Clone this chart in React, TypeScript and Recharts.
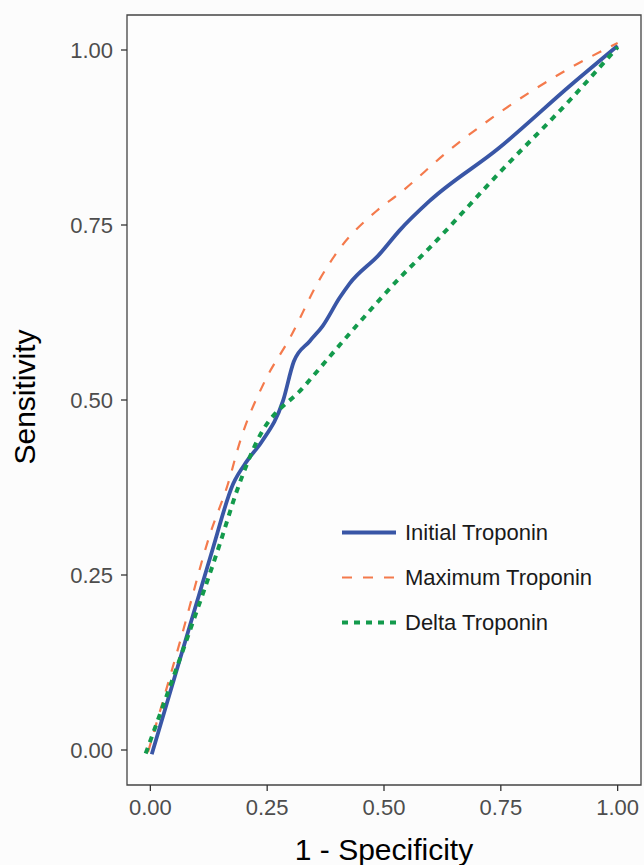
import React from 'react';
import { LineChart, Line, XAxis, YAxis, ReferenceArea, Label } from 'recharts';

const INITIAL_FPR = [0.003, 0.075, 0.132, 0.177, 0.207, 0.239, 0.284, 0.307, 0.341, 0.369, 0.405, 0.426, 0.49, 0.533, 0.597, 0.746, 0.9, 1.0];
const INITIAL_TPR = [-0.006, 0.156, 0.284, 0.38, 0.413, 0.441, 0.499, 0.555, 0.584, 0.606, 0.646, 0.666, 0.708, 0.742, 0.784, 0.86, 0.95, 1.006];

const MAXIMUM_FPR = [-0.005, 0.064, 0.128, 0.166, 0.192, 0.245, 0.299, 0.362, 0.405, 0.484, 0.533, 0.64, 0.746, 0.9, 1.0];
const MAXIMUM_TPR = [-0.003, 0.156, 0.309, 0.38, 0.441, 0.527, 0.589, 0.672, 0.716, 0.77, 0.795, 0.857, 0.91, 0.975, 1.01];

const DELTA_FPR = [-0.01, 0.079, 0.149, 0.185, 0.228, 0.33, 0.441, 0.533, 0.597, 0.746, 0.9, 1.0];
const DELTA_TPR = [-0.005, 0.16, 0.295, 0.37, 0.441, 0.52, 0.606, 0.674, 0.717, 0.824, 0.93, 1.004];

const TICKS = [0, 0.25, 0.5, 0.75, 1.0];

const SERIES_NAMES = ['Initial Troponin', 'Maximum Troponin', 'Delta Troponin'];
const SERIES_COLORS = ['#3956a6', '#f47a4c', '#139a4c'];
const SERIES_WIDTHS = [3.8, 2.2, 4];
const SERIES_DASHES = [undefined, '10 11', '6 6'];

const zip = (xs: number[], ys: number[]) => xs.map((x, i) => ({ x, y: ys[i] }));
const initialData = zip(INITIAL_FPR, INITIAL_TPR);
const maximumData = zip(MAXIMUM_FPR, MAXIMUM_TPR);
const deltaData = zip(DELTA_FPR, DELTA_TPR);
const DATASETS = [initialData, maximumData, deltaData];

const FONT = '"Liberation Sans", Arial, Helvetica, sans-serif';

const LegendBox = () => (
  <div style={{ position: 'absolute', left: 338, top: 510, fontFamily: FONT }}>
    {SERIES_NAMES.map((name, i) => (
      <div key={name} style={{ display: 'flex', alignItems: 'center', height: 45 }}>
        <svg width={62} height={45} style={{ display: 'block' }}>
          <line
            x1={4}
            x2={58}
            y1={22.5}
            y2={22.5}
            stroke={SERIES_COLORS[i]}
            strokeWidth={SERIES_WIDTHS[i]}
            strokeDasharray={SERIES_DASHES[i]}
          />
        </svg>
        <span style={{ marginLeft: 5, fontSize: 22, color: '#1a1a1a', whiteSpace: 'nowrap' }}>{name}</span>
      </div>
    ))}
  </div>
);

const YTitle = (props: any) => {
  const vb = props.viewBox || { x: 0, y: 0, width: 0, height: 0 };
  const cx = 24;
  const cy = vb.y + vb.height / 2 - 3;
  return (
    <text
      x={cx}
      y={cy}
      transform={`rotate(-90, ${cx}, ${cy})`}
      textAnchor="middle"
      dominantBaseline="central"
      fontSize={30}
      fontFamily={FONT}
      fill="#000"
    >
      Sensitivity
    </text>
  );
};

const XTitle = (props: any) => {
  const vb = props.viewBox || { x: 0, y: 0, width: 0, height: 0 };
  const cx = vb.x + vb.width / 2;
  return (
    <text x={cx} y={860} textAnchor="middle" fontSize={30} fontFamily={FONT} fill="#000">
      1 - Specificity
    </text>
  );
};

export default function App() {
  return (
    <div style={{ position: 'absolute', left: 0, top: 0, width: 644, height: 865, background: '#fcfcfc', overflow: 'hidden' }}>
      <LineChart width={644} height={865} margin={{ top: 15, right: 3, bottom: 0, left: 0 }}>
        <ReferenceArea
          x1={-0.05}
          x2={1.05}
          y1={-0.05}
          y2={1.05}
          fill="#fdfdfd"
          fillOpacity={1}
          stroke="#444"
          strokeWidth={1.3}
          ifOverflow="visible"
        />
        <XAxis
          type="number"
          dataKey="x"
          domain={[-0.05, 1.05]}
          ticks={TICKS}
          allowDuplicatedCategory={false}
          tickFormatter={(v: number) => v.toFixed(2)}
          height={80}
          axisLine={false}
          tickLine={{ stroke: '#333', strokeWidth: 1.3 }}
          tickSize={6}
          tickMargin={8}
          tick={{ fill: '#4d4d4d', fontSize: 22, fontFamily: FONT }}
        >
          <Label content={XTitle} />
        </XAxis>
        <YAxis
          type="number"
          dataKey="y"
          domain={[-0.05, 1.05]}
          ticks={TICKS}
          tickFormatter={(v: number) => v.toFixed(2)}
          width={127}
          axisLine={false}
          tickLine={{ stroke: '#333', strokeWidth: 1.3 }}
          tickSize={6}
          tickMargin={8}
          tick={{ fill: '#4d4d4d', fontSize: 22, fontFamily: FONT }}
        >
          <Label content={YTitle} />
        </YAxis>
        {DATASETS.map((d, i) => (
          <Line
            key={SERIES_NAMES[i]}
            data={d}
            dataKey="y"
            name={SERIES_NAMES[i]}
            type="monotone"
            stroke={SERIES_COLORS[i]}
            strokeWidth={SERIES_WIDTHS[i]}
            strokeDasharray={SERIES_DASHES[i]}
            dot={false}
            activeDot={false}
            isAnimationActive={false}
          />
        ))}
      </LineChart>
      <LegendBox />
    </div>
  );
}
